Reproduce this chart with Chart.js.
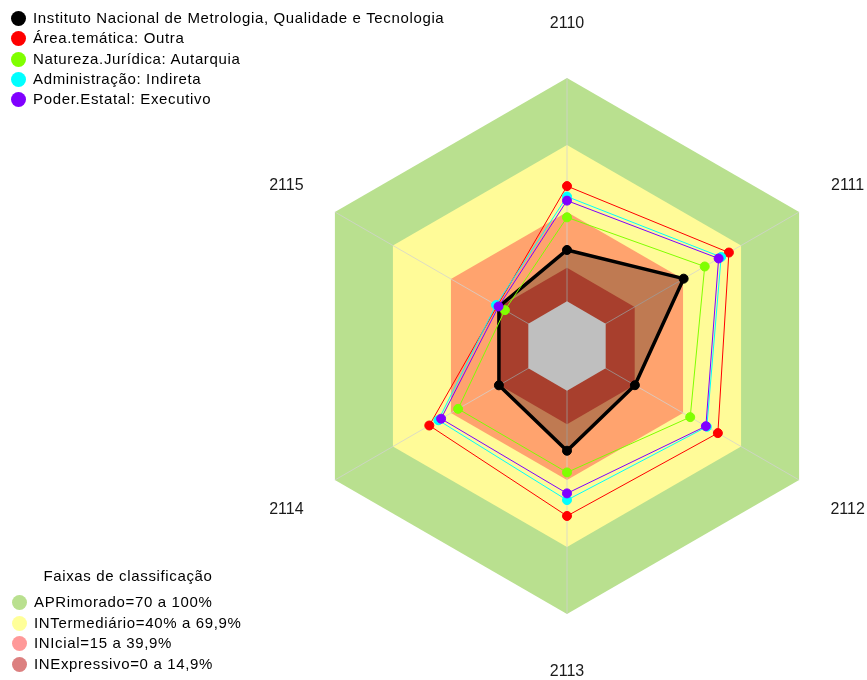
<!DOCTYPE html>
<html>
<head>
<meta charset="utf-8">
<script src="https://cdn.jsdelivr.net/npm/chart.js@4.4.0/dist/chart.umd.min.js"></script>
<style>
  body { margin: 0; background: #fff; font-family: 'Liberation Sans', Arial, sans-serif; }
  #wrap { position: relative; width: 867px; height: 680px; overflow: hidden; }
  #radar { position: absolute; left: 0; top: 0; }
  .legend { position: absolute; font-size: 15px; letter-spacing: 0.65px; color: #000; }
  .legend .row { height: 20.3px; line-height: 20.3px; white-space: nowrap; }
  .dot { display: inline-block; width: 15px; height: 15px; border-radius: 50%; vertical-align: -3px; margin-right: 7px; }
  .ltitle { position: absolute; left: 28px; width: 200px; text-align: center; font-size: 15px; letter-spacing: 0.65px; top: 567px; }
</style>
</head>
<body>
<div id="wrap">
  <canvas id="radar" width="867" height="680"></canvas>
  <div class="legend" id="seriesLegend" style="left:11px; top:8px;"></div>
  <div class="ltitle">Faixas de classificação</div>
  <div class="legend" id="bandLegend" style="left:12px; top:592px;"></div>
</div>
<script>
// --- DATA ---
const categories = ['2110', '2111', '2112', '2113', '2114', '2115'];

const seriesNames = [
  'Instituto Nacional de Metrologia, Qualidade e Tecnologia',
  'Área.temática: Outra',
  'Natureza.Jurídica: Autarquia',
  'Administração: Indireta',
  'Poder.Estatal: Executivo'
];
const inmetro = [23.0, 40.3, 15.1, 26.9, 15.2, 15.2];
const areaOutra = [51.6, 63.7, 58.0, 56.1, 51.2, 16.0];
const naturezaAutarquia = [37.6, 51.2, 43.7, 36.6, 36.3, 12.1];
const adminIndireta = [46.9, 59.7, 52.3, 49.0, 46.5, 16.7];
const poderExecutivo = [45.1, 58.4, 51.8, 46.0, 45.1, 15.4];

const bandNames = [
  'APRimorado=70 a 100%',
  'INTermediário=40% a 69,9%',
  'INIcial=15 a 39,9%',
  'INExpressivo=0 a 14,9%'
];
const bandTops = [100, 70, 40, 15];
const scaleMin = -20;
const scaleMax = 100;

// --- STYLES ---
const seriesColors = ['#000000', '#ff0000', '#80ff00', '#00ffff', '#8000ff'];
const bandFill = ['#b9e08f', '#fffb98', '#ffa36e', '#e0553c'];
const bandLegendColors = ['#b9e08f', '#ffff99', '#ff9999', '#dc8080'];

// --- LEGENDS (html) ---
const seriesLegend = document.getElementById('seriesLegend');
seriesNames.forEach((name, i) => {
  const row = document.createElement('div');
  row.className = 'row';
  row.innerHTML = `<span class="dot" style="background:${seriesColors[i]}"></span>${name}`;
  seriesLegend.appendChild(row);
});
const bandLegend = document.getElementById('bandLegend');
bandNames.forEach((name, i) => {
  const row = document.createElement('div');
  row.className = 'row';
  row.style.height = '20.5px';
  row.innerHTML = `<span class="dot" style="background:${bandLegendColors[i]}"></span>${name}`;
  bandLegend.appendChild(row);
});

// --- BAND / LABEL PLUGIN ---
function hexagon(ctx, scale, value, color) {
  ctx.beginPath();
  categories.forEach((c, i) => {
    const p = scale.getPointPositionForValue(i, value);
    if (i === 0) ctx.moveTo(p.x, p.y); else ctx.lineTo(p.x, p.y);
  });
  ctx.closePath();
  ctx.fillStyle = color;
  ctx.fill();
}

const bandsPlugin = {
  id: 'bands',
  beforeDraw(chart) {
    const scale = chart.scales.r;
    chart.ctx.save();
    bandTops.forEach((v, k) => hexagon(chart.ctx, scale, v, bandFill[k]));
    chart.ctx.restore();
  },
  beforeDatasetsDraw(chart) {
    // white centre (below 0) covers the spokes
    chart.ctx.save();
    hexagon(chart.ctx, chart.scales.r, 0, '#ffffff');
    chart.ctx.restore();
  },
  afterDraw(chart) {
    const scale = chart.scales.r;
    const ctx = chart.ctx;
    ctx.save();
    ctx.font = "16px 'Liberation Sans', Arial, sans-serif";
    ctx.fillStyle = '#1a1a1a';
    ctx.textAlign = 'center';
    ctx.textBaseline = 'middle';
    categories.forEach((c, i) => {
      const p = scale.getPointPosition(i, scale.drawingArea + 56);
      ctx.fillText(c, p.x, p.y + 2);
    });
    ctx.restore();
  }
};

// --- CHART ---
const allSeries = [inmetro, areaOutra, naturezaAutarquia, adminIndireta, poderExecutivo];
const datasets = allSeries.map((vals, i) => ({
  label: seriesNames[i],
  data: vals,
  borderColor: seriesColors[i],
  backgroundColor: i === 0 ? 'rgba(0,0,0,0.25)' : seriesColors[i],
  fill: i === 0 ? 'start' : false,
  borderWidth: i === 0 ? 3.5 : 1,
  pointRadius: 4.5,
  pointBorderWidth: 1,
  pointBackgroundColor: seriesColors[i],
  pointBorderColor: seriesColors[i],
  order: allSeries.length - i
}));

new Chart(document.getElementById('radar'), {
  type: 'radar',
  data: { labels: categories, datasets: datasets },
  options: {
    responsive: false,
    animation: false,
    layout: { padding: { left: 299, right: 32, top: 78, bottom: 66 } },
    elements: { line: { tension: 0 } },
    plugins: {
      legend: { display: false },
      tooltip: { enabled: false }
    },
    scales: {
      r: {
        min: scaleMin,
        max: scaleMax,
        ticks: { display: false },
        grid: { display: false },
        angleLines: { display: true, color: 'rgba(210,210,210,0.75)', lineWidth: 1 },
        pointLabels: { display: false }
      }
    }
  },
  plugins: [bandsPlugin]
});
</script>
</body>
</html>
